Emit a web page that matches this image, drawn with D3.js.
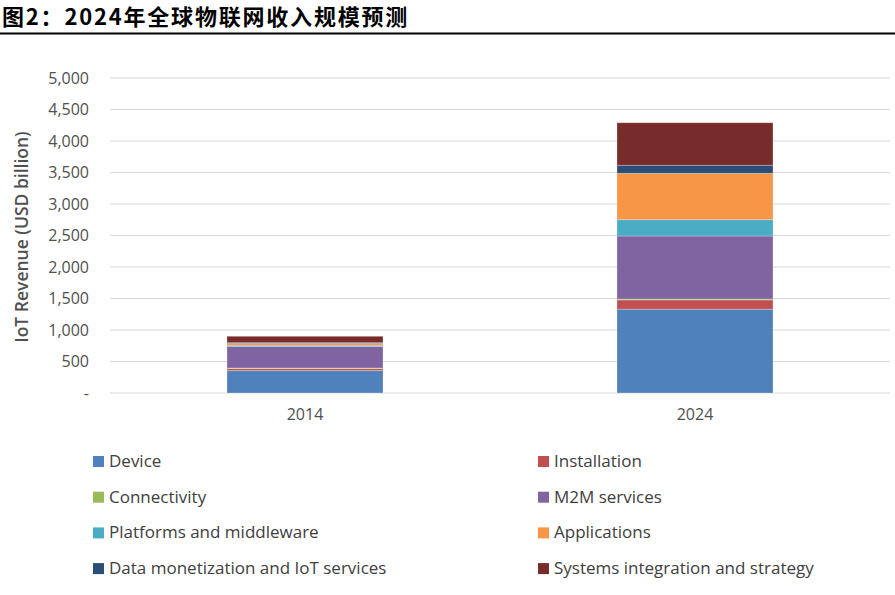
<!DOCTYPE html>
<html>
<head>
<meta charset="utf-8">
<script src="https://cdn.jsdelivr.net/npm/d3@7"></script>
<style>
  body { margin: 0; background: #fff; }
  svg { display: block; }
</style>
</head>
<body>
<svg id="chart" width="895" height="595"></svg>
<script>
const years = ["2014", "2024"];
const seriesNames = ["Device", "Installation", "Connectivity", "M2M services",
    "Platforms and middleware", "Applications", "Data monetization and IoT services",
    "Systems integration and strategy"];
const values2014 = [355, 32, 10, 340, 20, 30, 13, 100];
const values2024 = [1330, 147, 15, 1000, 260, 735, 127, 676];
const yTicks = [0, 500, 1000, 1500, 2000, 2500, 3000, 3500, 4000, 4500, 5000];
const colors = ["#4F81BD", "#C0504D", "#9BBB59", "#8064A2", "#4BACC6", "#F79646", "#2C4D75", "#772C2A"];

const svg = d3.select("#chart");
const font = "'Open Sans', 'Noto Sans', sans-serif";

// 标题
svg.append("text")
    .attr("x", 2)
    .attr("y", 25)
    .attr("font-family", "'Noto Sans CJK SC', sans-serif")
    .attr("font-weight", "bold")
    .attr("font-size", "22px")
    .attr("letter-spacing", "1.8px")
    .attr("fill", "#000")
    .text("图2：2024年全球物联网收入规模预测");

svg.append("line")
    .attr("x1", 0).attr("x2", 895)
    .attr("y1", 33.5).attr("y2", 33.5)
    .attr("stroke", "#000")
    .attr("stroke-width", 2);

const margin = { left: 110, right: 5, top: 78, bottom: 202 };
const plotW = 895 - margin.left - margin.right;
const plotH = 595 - margin.top - margin.bottom;

const x = d3.scaleBand()
    .domain(years)
    .range([0, plotW])
    .paddingInner(0.6)
    .paddingOuter(0.3);

const y = d3.scaleLinear()
    .domain([0, 5000])
    .range([plotH, 0]);

const g = svg.append("g").attr("transform", `translate(${margin.left},${margin.top})`);

// 网格线
g.append("g")
    .selectAll("line")
    .data(yTicks)
    .join("line")
    .attr("x1", 0).attr("x2", plotW)
    .attr("y1", d => y(d)).attr("y2", d => y(d))
    .attr("stroke", "#d9d9d9")
    .attr("stroke-width", 1);

const yAxis = g.append("g")
    .call(d3.axisLeft(y).tickValues(yTicks).tickSize(0).tickPadding(21)
        .tickFormat(d => d === 0 ? "-" : d3.format(",")(d)));
yAxis.select(".domain").remove();
yAxis.selectAll("text")
    .attr("font-family", font)
    .attr("font-size", "16px")
    .attr("fill", "#505050");

const xAxis = g.append("g")
    .attr("transform", `translate(0,${plotH})`)
    .call(d3.axisBottom(x).tickSize(0).tickPadding(16));
xAxis.select(".domain").remove();
xAxis.selectAll("text")
    .attr("font-family", font)
    .attr("font-size", "16px")
    .attr("fill", "#505050");

// 堆叠数据
const rows = years.map((yr, i) => {
    const vals = i === 0 ? values2014 : values2024;
    const row = { year: yr };
    seriesNames.forEach((s, j) => row[s] = vals[j]);
    return row;
});
const stacked = d3.stack().keys(seriesNames)(rows);

g.selectAll("g.series")
    .data(stacked)
    .join("g")
    .classed("series", true)
    .attr("fill", (d, i) => colors[i])
    .selectAll("rect")
    .data(d => d)
    .join("rect")
    .attr("x", d => x(d.data.year))
    .attr("width", x.bandwidth())
    .attr("y", d => y(d[1]))
    .attr("height", d => y(d[0]) - y(d[1]))
    .attr("stroke", "#ffffff")
    .attr("stroke-opacity", 0.25)
    .attr("stroke-width", 1);

// y 轴标题
svg.append("text")
    .attr("transform", "translate(28,237) rotate(-90)")
    .attr("text-anchor", "middle")
    .attr("font-family", font)
    .attr("font-size", "17.5px")
    .attr("font-weight", 600)
    .attr("fill", "#505050")
    .text("IoT Revenue (USD billion)");

// 图例
const legend = svg.append("g");
const legendItems = legend.selectAll("g")
    .data(seriesNames)
    .join("g")
    .attr("transform", (d, i) => `translate(${i % 2 === 0 ? 93 : 538},${461 + Math.floor(i / 2) * 35.7})`);

legendItems.append("rect")
    .attr("x", 0).attr("y", -5)
    .attr("width", 11).attr("height", 11)
    .attr("fill", (d, i) => colors[i]);

legendItems.append("text")
    .attr("x", 16)
    .attr("y", 0)
    .attr("dy", "0.35em")
    .attr("font-family", font)
    .attr("font-size", "17px")
    .attr("fill", "#404040")
    .text(d => d);
</script>
</body>
</html>
